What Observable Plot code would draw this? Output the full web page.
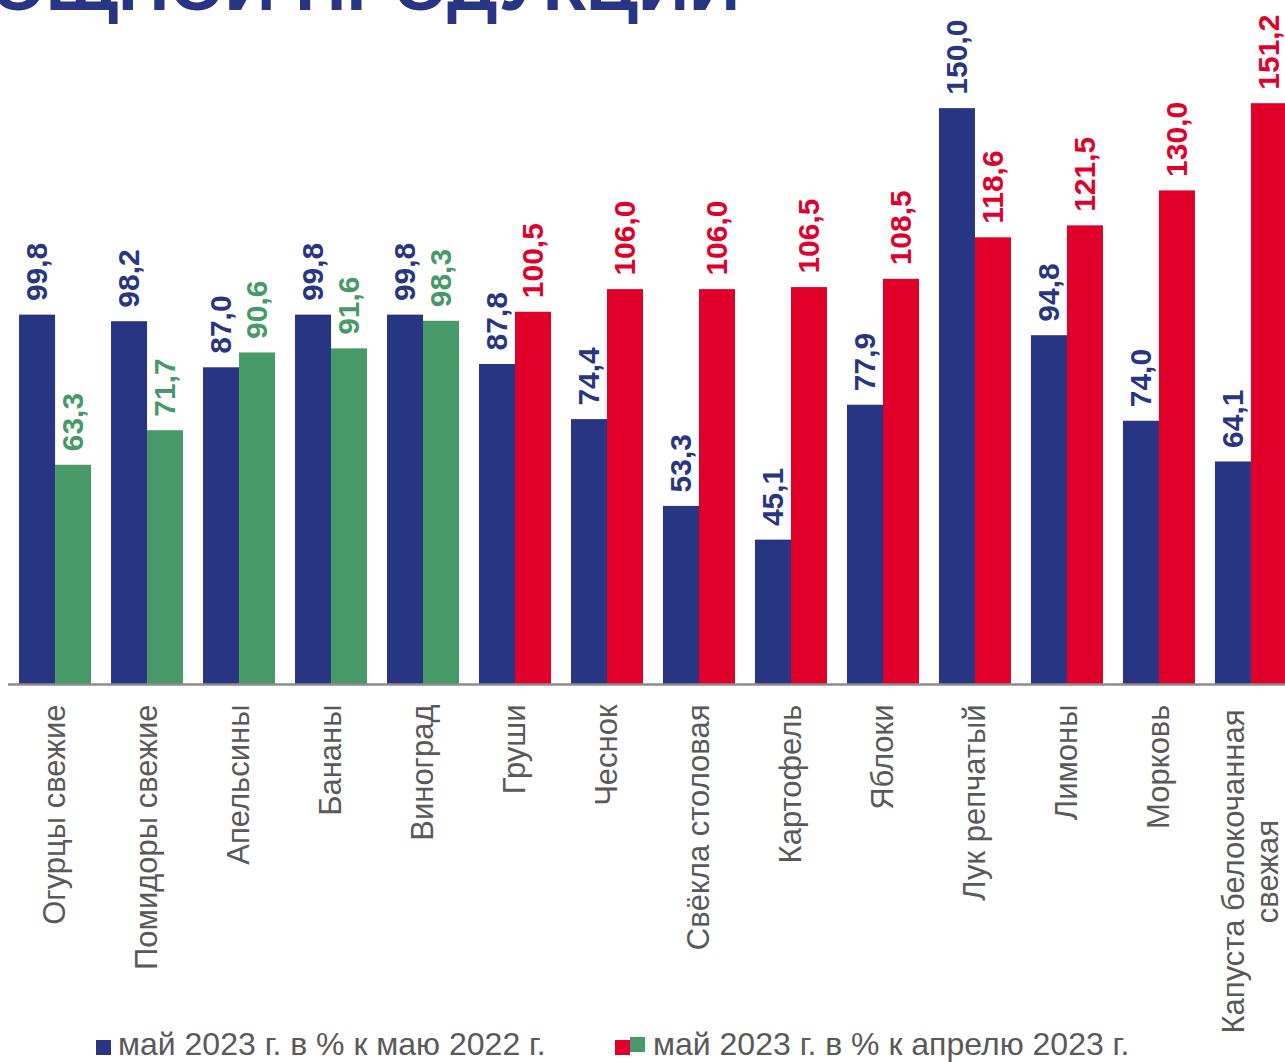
<!DOCTYPE html>
<html>
<head>
<meta charset="utf-8">
<script src="https://cdn.jsdelivr.net/npm/d3@7"></script>
<script src="https://cdn.jsdelivr.net/npm/@observablehq/plot@0.6"></script>
<style>
  html, body { margin: 0; padding: 0; background: #fff; }
  body { overflow: hidden; font-family: "Liberation Sans", Arial, sans-serif; }
  #wrap { position: relative; width: 1285px; height: 1062px; overflow: hidden; }
  #title { position: absolute; right: 545px; top: -50px; font-size: 71px; font-weight: bold;
           color: #283583; white-space: nowrap; line-height: 1; }
  #chart { position: absolute; left: 0; top: 0; }
  .leg { position: absolute; top: 1026px; font-size: 32px; color: #595959; white-space: nowrap; line-height: 36px; }
  .sw { display: inline-block; width: 15px; height: 15px; vertical-align: 0px; }
</style>
</head>
<body>
<div id="wrap">
  <div id="title">ПЛОДООВОЩНОЙ ПРОДУКЦИИ</div>
  <div id="chart"></div>
  <div class="leg" style="left:96px"><span class="sw" style="background:#283583"></span><span style="margin-left:7px">май 2023 г. в % к маю 2022 г.</span></div>
  <div class="leg" style="left:615px"><span class="sw" style="background:#E1002A"></span><span class="sw" style="background:#479A67;position:relative;top:-3px"></span><span style="margin-left:8px">май 2023 г. в % к апрелю 2023 г.</span></div>
</div>
<script>
const categories = ["Огурцы свежие", "Помидоры свежие", "Апельсины", "Бананы", "Виноград", "Груши", "Чеснок",
  "Свёкла столовая", "Картофель", "Яблоки", "Лук репчатый", "Лимоны", "Морковь", "Капуста белокочанная свежая"];
const tickLabels = ["Огурцы свежие", "Помидоры свежие", "Апельсины", "Бананы", "Виноград", "Груши", "Чеснок",
  "Свёкла столовая", "Картофель", "Яблоки", "Лук репчатый", "Лимоны", "Морковь", "Капуста белокочанная\nсвежая"];
const yoy = [99.8, 98.2, 87.0, 99.8, 99.8, 87.8, 74.4, 53.3, 45.1, 77.9, 150.0, 94.8, 74.0, 64.1];
const mom = [63.3, 71.7, 90.6, 91.6, 98.3, 100.5, 106.0, 106.0, 106.5, 108.5, 118.6, 121.5, 130.0, 151.2];
const seriesNames = ["май 2023 г. в % к маю 2022 г.", "май 2023 г. в % к апрелю 2023 г."];

const yMin = 10, yMax = 160;
const BLUE = "#283583", GREEN = "#479A67", RED = "#E1002A", GRAY = "#595959";

const yoyRows = categories.map((c, i) => ({cat: c, value: yoy[i], key: "yoy"}));
const momRows = categories.map((c, i) => ({cat: c, value: mom[i], key: mom[i] < 100 ? "down" : "up"}));
const labelRows = categories.map((c, i) => ({cat: c, label: tickLabels[i]}));
const fmt = d => d.value.toFixed(1).replace(".", ",");

const chart = Plot.plot({
  width: 1285,
  height: 1012,
  marginTop: 67,
  marginBottom: 328,
  marginLeft: 8,
  marginRight: -13,
  style: {fontFamily: "'Liberation Sans', Arial, sans-serif", background: "transparent", overflow: "visible"},
  x: {domain: categories, paddingInner: 0.217, paddingOuter: 0.12, round: false, axis: null},
  y: {domain: [yMin, yMax], axis: null},
  color: {domain: ["yoy", "down", "up"], range: [BLUE, GREEN, RED]},
  marks: [
    Plot.barY(yoyRows, {x: "cat", y1: () => yMin, y2: "value", fill: "key", insetRight: 36}),
    Plot.barY(momRows, {x: "cat", y1: () => yMin, y2: "value", fill: "key", insetLeft: 36}),
    Plot.ruleY([yMin], {stroke: "#8c8c8c", strokeWidth: 2.5}),
    Plot.text(yoyRows, {x: "cat", y: "value", text: fmt, fill: "key", rotate: -90, textAnchor: "start",
      lineAnchor: "middle", dx: -18, dy: -14, fontSize: 30, fontWeight: "bold"}),
    Plot.text(momRows, {x: "cat", y: "value", text: fmt, fill: "key", rotate: -90, textAnchor: "start",
      lineAnchor: "middle", dx: 18, dy: -14, fontSize: 30, fontWeight: "bold"}),
    Plot.text(labelRows.filter(d => !d.label.includes("\n")), {x: "cat", frameAnchor: "bottom", text: "label",
      rotate: -90, textAnchor: "end", lineAnchor: "middle", dy: 20, fontSize: 31, fill: GRAY}),
    Plot.text(labelRows.filter(d => d.label.includes("\n")), {x: "cat", frameAnchor: "bottom", text: "label",
      rotate: -90, textAnchor: "middle", lineAnchor: "middle", dy: 187, dx: -1, fontSize: 31, fill: GRAY, lineHeight: 1.1})
  ]
});
document.getElementById("chart").appendChild(chart);
</script>
</body>
</html>
